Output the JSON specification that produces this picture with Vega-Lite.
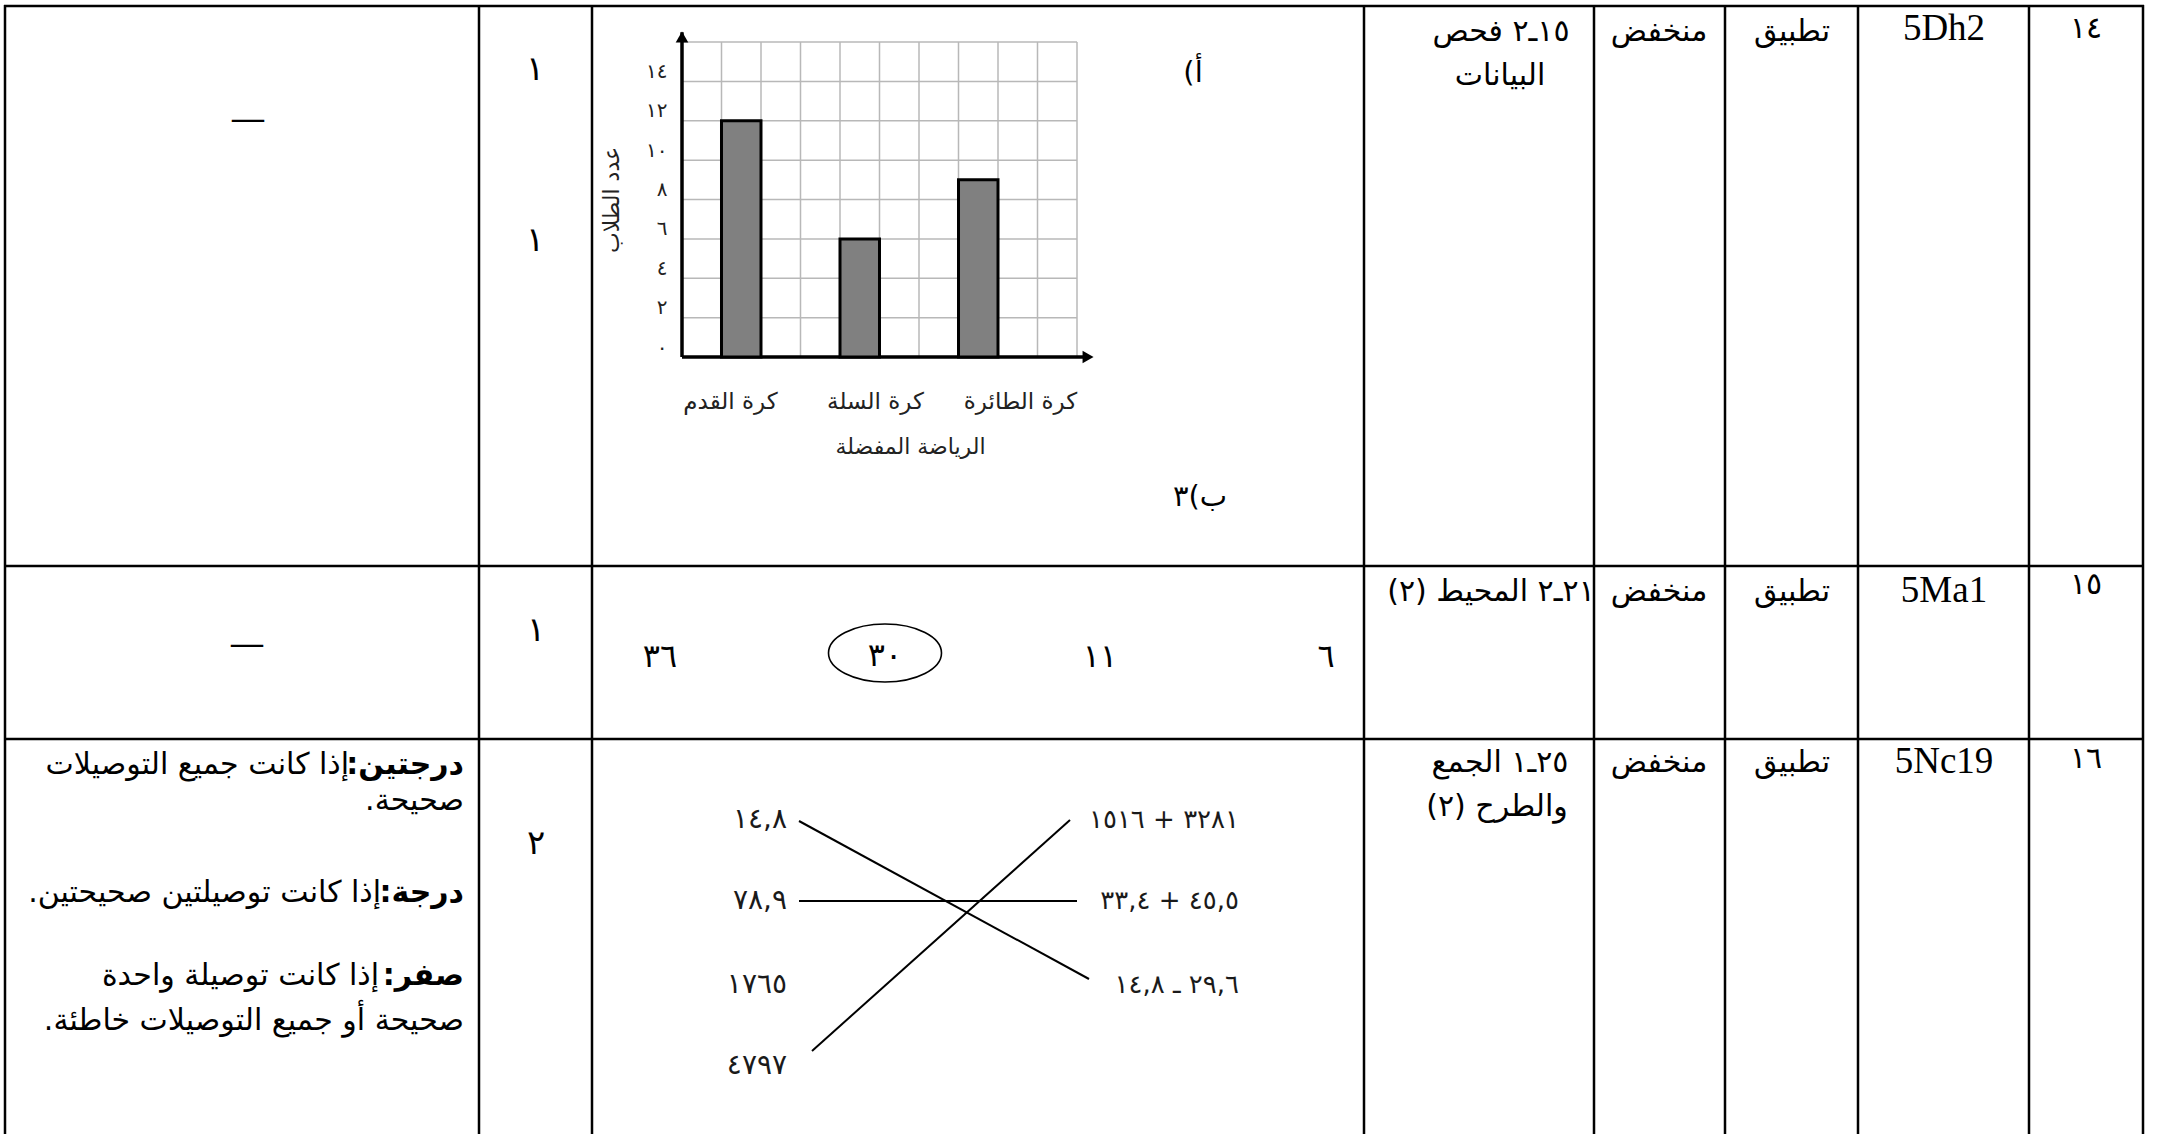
{
  "$schema": "https://vega.github.io/schema/vega-lite/v6.json",
  "width": 2161,
  "height": 1134,
  "padding": 0,
  "autosize": {"type": "none"},
  "background": "white",
  "config": {
    "view": {"stroke": null},
    "locale": {"number": {"decimal": ",", "thousands": "", "grouping": [3], "currency": ["", ""], "numerals": ["٠", "١", "٢", "٣", "٤", "٥", "٦", "٧", "٨", "٩"]}}
  },
  "resolve": {"scale": {"x": "independent", "y": "independent"}},
  "layer": [
    {
      "encoding": {
        "x": {"field": "x", "type": "quantitative", "scale": {"domain": [0, 2161], "range": [0, 2161], "nice": false, "zero": false}, "axis": null},
        "y": {"field": "y", "type": "quantitative", "scale": {"domain": [0, 1134], "range": [0, 1134], "nice": false, "zero": false}, "axis": null}
      },
      "layer": [
        {
          "data": {"values": [
            {"x": 5, "y": 5, "x2": 5, "y2": 1134},
            {"x": 479, "y": 5, "x2": 479, "y2": 1134},
            {"x": 592, "y": 5, "x2": 592, "y2": 1134},
            {"x": 1364, "y": 5, "x2": 1364, "y2": 1134},
            {"x": 1594, "y": 5, "x2": 1594, "y2": 1134},
            {"x": 1725, "y": 5, "x2": 1725, "y2": 1134},
            {"x": 1858, "y": 5, "x2": 1858, "y2": 1134},
            {"x": 2029, "y": 5, "x2": 2029, "y2": 1134},
            {"x": 2143, "y": 5, "x2": 2143, "y2": 1134},
            {"x": 4, "y": 6, "x2": 2144, "y2": 6},
            {"x": 4, "y": 566, "x2": 2144, "y2": 566},
            {"x": 4, "y": 739, "x2": 2144, "y2": 739}
          ]},
          "mark": {"type": "rule", "color": "black", "strokeWidth": 2.5},
          "encoding": {"x2": {"field": "x2"}, "y2": {"field": "y2"}}
        },
        {
          "data": {"values": [
            {"x": 799, "y": 821, "x2": 1089, "y2": 979},
            {"x": 799, "y": 901, "x2": 1077, "y2": 901},
            {"x": 812, "y": 1051, "x2": 1070, "y2": 820}
          ]},
          "mark": {"type": "rule", "color": "black", "strokeWidth": 2},
          "encoding": {"x2": {"field": "x2"}, "y2": {"field": "y2"}}
        },
        {
          "data": {"values": [{"x": 885, "y": 653}]},
          "mark": {"type": "point", "shape": "M -1 0 C -1 -0.2833 -0.5523 -0.513 0 -0.513 C 0.5523 -0.513 1 -0.2833 1 0 C 1 0.2833 0.5523 0.513 0 0.513 C -0.5523 0.513 -1 0.2833 -1 0 Z", "size": 12769, "filled": false, "stroke": "black", "strokeWidth": 1.6, "opacity": 1}
        },
        {
          "data": {"values": [
            {"x": 1944, "y": 40, "t": "5Dh2"},
            {"x": 1944, "y": 602, "t": "5Ma1"},
            {"x": 1944, "y": 773, "t": "5Nc19"}
          ]},
          "mark": {"type": "text", "font": "Liberation Serif", "fontSize": 37, "align": "center", "baseline": "alphabetic", "color": "black"},
          "encoding": {"text": {"field": "t"}}
        },
        {
          "data": {"values": [
            {"x": 2086, "y": 38, "t": "١٤"},
            {"x": 2086, "y": 594, "t": "١٥"},
            {"x": 2086, "y": 768, "t": "١٦"}
          ]},
          "mark": {"type": "text", "font": "DejaVu Sans", "fontSize": 30, "align": "center", "baseline": "alphabetic", "color": "black"},
          "encoding": {"text": {"field": "t"}}
        },
        {
          "data": {"values": [
            {"x": 1792, "y": 41, "t": "تطبيق"},
            {"x": 1659, "y": 41, "t": "منخفض"},
            {"x": 1792, "y": 601, "t": "تطبيق"},
            {"x": 1659, "y": 601, "t": "منخفض"},
            {"x": 1792, "y": 772, "t": "تطبيق"},
            {"x": 1659, "y": 772, "t": "منخفض"},
            {"x": 1501, "y": 41, "t": "\u200f١٥ـ٢ فحص\u200f"},
            {"x": 1500, "y": 85, "t": "البيانات"},
            {"x": 1491, "y": 601, "t": "\u200f٢١ـ٢ المحيط (٢)\u200f"},
            {"x": 1500, "y": 772, "t": "\u200f٢٥ـ١ الجمع\u200f"},
            {"x": 1497, "y": 816, "t": "\u200fوالطرح (٢)\u200f"}
          ]},
          "mark": {"type": "text", "font": "DejaVu Sans", "fontSize": 30, "align": "center", "baseline": "alphabetic", "color": "black"},
          "encoding": {"text": {"field": "t"}}
        },
        {
          "data": {"values": [
            {"x": 535, "y": 80, "t": "١"},
            {"x": 535, "y": 251, "t": "١"},
            {"x": 536, "y": 641, "t": "١"},
            {"x": 536, "y": 854, "t": "٢"}
          ]},
          "mark": {"type": "text", "font": "DejaVu Sans", "fontSize": 34, "align": "center", "baseline": "alphabetic", "color": "black"},
          "encoding": {"text": {"field": "t"}}
        },
        {
          "data": {"values": [
            {"x": 660, "y": 667, "t": "٣٦"},
            {"x": 885, "y": 666, "t": "٣٠"},
            {"x": 1100, "y": 667, "t": "١١"},
            {"x": 1326, "y": 667, "t": "٦"}
          ]},
          "mark": {"type": "text", "font": "DejaVu Sans", "fontSize": 32, "align": "center", "baseline": "alphabetic", "color": "black"},
          "encoding": {"text": {"field": "t"}}
        },
        {
          "data": {"values": [
            {"x": 248, "y": 128, "t": "—"},
            {"x": 247, "y": 653, "t": "—"}
          ]},
          "mark": {"type": "text", "font": "Liberation Serif", "fontSize": 32, "fontWeight": "bold", "align": "center", "baseline": "alphabetic", "color": "black"},
          "encoding": {"text": {"field": "t"}}
        },
        {
          "data": {"values": [
            {"x": 1193, "y": 82, "t": "أ)\u200f"},
            {"x": 1200, "y": 506, "t": "ب)٣"}
          ]},
          "mark": {"type": "text", "font": "DejaVu Sans", "fontSize": 29, "align": "center", "baseline": "alphabetic", "color": "black"},
          "encoding": {"text": {"field": "t"}}
        },
        {
          "data": {"values": [
            {"x": 464, "y": 774, "t": "درجتين:\u200f"},
            {"x": 464, "y": 902, "t": "درجة:\u200f"},
            {"x": 464, "y": 985, "t": "صفر:\u200f"}
          ]},
          "mark": {"type": "text", "font": "DejaVu Sans", "fontSize": 30, "fontWeight": "bold", "align": "right", "baseline": "alphabetic", "color": "black"},
          "encoding": {"text": {"field": "t"}}
        },
        {
          "data": {"values": [
            {"x": 349, "y": 774, "t": "إذا كانت جميع التوصيلات"},
            {"x": 464, "y": 810, "t": "صحيحة.\u200f"},
            {"x": 381, "y": 902, "t": "إذا كانت توصيلتين صحيحتين.\u200f"},
            {"x": 379, "y": 985, "t": "إذا كانت توصيلة واحدة"},
            {"x": 464, "y": 1030, "t": "صحيحة أو جميع التوصيلات خاطئة.\u200f"}
          ]},
          "mark": {"type": "text", "font": "DejaVu Sans", "fontSize": 30, "align": "right", "baseline": "alphabetic", "color": "black"},
          "encoding": {"text": {"field": "t"}}
        },
        {
          "data": {"values": [
            {"x": 787, "y": 828, "t": "١٤,٨"},
            {"x": 787, "y": 909, "t": "٧٨,٩"},
            {"x": 787, "y": 993, "t": "١٧٦٥"},
            {"x": 787, "y": 1074, "t": "٤٧٩٧"}
          ]},
          "mark": {"type": "text", "font": "DejaVu Sans", "fontSize": 28, "align": "right", "baseline": "alphabetic", "color": "#1a1a1a"},
          "encoding": {"text": {"field": "t"}}
        },
        {
          "data": {"values": [
            {"x": 1239, "y": 828, "t": "٣٢٨١ + ١٥١٦"},
            {"x": 1239, "y": 909, "t": "٤٥,٥ + ٣٣,٤"},
            {"x": 1239, "y": 993, "t": "٢٩,٦ ـ ١٤,٨"}
          ]},
          "mark": {"type": "text", "font": "DejaVu Sans", "fontSize": 26, "align": "right", "baseline": "alphabetic", "color": "#1a1a1a"},
          "encoding": {"text": {"field": "t"}}
        }
      ]
    },
    {
      "encoding": {
        "x": {"field": "gx", "type": "quantitative", "scale": {"domain": [0, 10], "range": [682, 1077], "nice": false, "zero": false}, "axis": null},
        "y": {"field": "gy", "type": "quantitative", "scale": {"domain": [0, 16], "range": [357, 42], "nice": false, "zero": false}, "axis": null}
      },
      "layer": [
        {
          "data": {"values": [
            {"gx": 1, "gy": 0, "gx2": 1, "gy2": 16},
            {"gx": 2, "gy": 0, "gx2": 2, "gy2": 16},
            {"gx": 3, "gy": 0, "gx2": 3, "gy2": 16},
            {"gx": 4, "gy": 0, "gx2": 4, "gy2": 16},
            {"gx": 5, "gy": 0, "gx2": 5, "gy2": 16},
            {"gx": 6, "gy": 0, "gx2": 6, "gy2": 16},
            {"gx": 7, "gy": 0, "gx2": 7, "gy2": 16},
            {"gx": 8, "gy": 0, "gx2": 8, "gy2": 16},
            {"gx": 9, "gy": 0, "gx2": 9, "gy2": 16},
            {"gx": 10, "gy": 0, "gx2": 10, "gy2": 16},
            {"gx": 0, "gy": 2, "gx2": 10, "gy2": 2},
            {"gx": 0, "gy": 4, "gx2": 10, "gy2": 4},
            {"gx": 0, "gy": 6, "gx2": 10, "gy2": 6},
            {"gx": 0, "gy": 8, "gx2": 10, "gy2": 8},
            {"gx": 0, "gy": 10, "gx2": 10, "gy2": 10},
            {"gx": 0, "gy": 12, "gx2": 10, "gy2": 12},
            {"gx": 0, "gy": 14, "gx2": 10, "gy2": 14},
            {"gx": 0, "gy": 16, "gx2": 10, "gy2": 16}
          ]},
          "mark": {"type": "rule", "color": "#b8b8b8", "strokeWidth": 1.5},
          "encoding": {"x2": {"field": "gx2"}, "y2": {"field": "gy2"}}
        },
        {
          "data": {"values": [
            {"gx": 0, "gy": 0, "gx2": 0, "gy2": 16.5},
            {"gx": 0, "gy": 0, "gx2": 10.3, "gy2": 0}
          ]},
          "mark": {"type": "rule", "color": "black", "strokeWidth": 3.5},
          "encoding": {"x2": {"field": "gx2"}, "y2": {"field": "gy2"}}
        },
        {
          "data": {"values": [{"gx": 0, "gy": 16.25}]},
          "mark": {"type": "point", "shape": "triangle-up", "size": 160, "filled": true, "color": "black", "opacity": 1}
        },
        {
          "data": {"values": [{"gx": 10.28, "gy": 0}]},
          "mark": {"type": "point", "shape": "triangle-right", "size": 160, "filled": true, "color": "black", "opacity": 1}
        }
      ]
    },
    {
      "data": {"values": [
        {"sport": "كرة القدم", "students": 12},
        {"sport": "كرة السلة", "students": 6},
        {"sport": "كرة الطائرة", "students": 9}
      ]},
      "mark": {"type": "bar", "fill": "#808080", "stroke": "black", "strokeWidth": 3},
      "encoding": {
        "x": {"field": "sport", "type": "nominal", "sort": null,
          "scale": {"domain": ["كرة القدم", "كرة السلة", "كرة الطائرة"], "range": [682, 1037.5], "paddingInner": 0.6667, "paddingOuter": 0.3333},
          "axis": null},
        "y": {"field": "students", "type": "quantitative",
          "scale": {"domain": [0, 16], "range": [357, 42], "nice": false},
          "axis": {"orient": "left", "offset": -682, "values": [0, 2, 4, 6, 8, 10, 12, 14], "domain": false, "ticks": false, "tickSize": 0, "grid": false, "labelOverlap": false, "labelFont": "DejaVu Sans", "labelFontSize": 20, "labelColor": "#222222", "labelPadding": 15, "labelOffset": -10, "title": "عدد الطلاب", "titleFont": "DejaVu Sans", "titleFontSize": 22, "titleFontWeight": "normal", "titleColor": "#222222", "titlePadding": 22}}
      }
    },
    {
      "data": {"values": [
        {"sport": "كرة القدم", "students": 12},
        {"sport": "كرة السلة", "students": 6},
        {"sport": "كرة الطائرة", "students": 9}
      ]},
      "mark": {"type": "point", "opacity": 0},
      "encoding": {
        "x": {"field": "sport", "type": "nominal", "sort": null,
          "scale": {"domain": ["كرة القدم", "كرة السلة", "كرة الطائرة"], "range": [657.5, 1092.5], "paddingInner": 0, "paddingOuter": 0},
          "axis": {"orient": "bottom", "offset": -777, "domain": false, "ticks": false, "tickSize": 0, "grid": false, "labelAngle": 0, "labelOverlap": false, "labelFont": "DejaVu Sans", "labelFontSize": 23, "labelColor": "#222222", "labelPadding": 33, "title": "الرياضة المفضلة", "titleFont": "DejaVu Sans", "titleFontSize": 22, "titleFontWeight": "normal", "titleColor": "#222222", "titlePadding": 23, "titleX": 910}}
      }
    }
  ]
}
